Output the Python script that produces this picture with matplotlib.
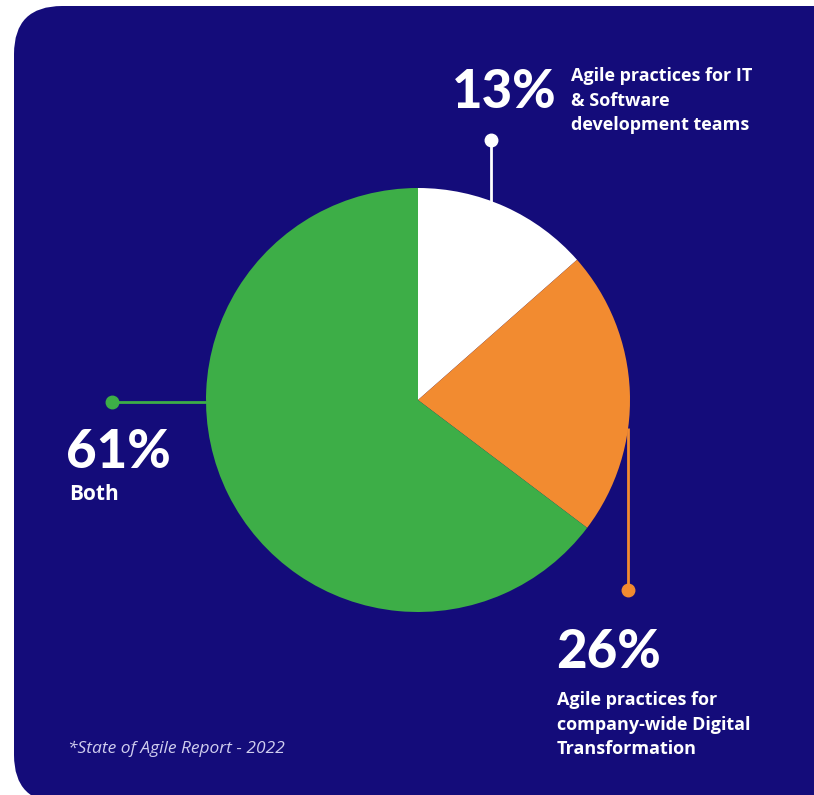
import matplotlib.pyplot as plt
from matplotlib.patches import FancyBboxPatch

# data
# slice sizes as drawn in the picture (the printed labels are rounded survey numbers)
shares = [13.5, 21.8, 64.7]
pct_labels = ['13%', '26%', '61%']
descriptions = ['Agile practices for IT\n& Software\ndevelopment teams',
                'Agile practices for\ncompany-wide Digital\nTransformation',
                'Both']
slice_colors = ['#FFFFFF', '#F28B30', '#3DAE47']
footnote = '*State of Agile Report - 2022'

BG = '#140C7A'
W, H = 814, 795

fig = plt.figure(figsize=(W / 100, H / 100), dpi=100)
fig.patch.set_facecolor('white')
ax = fig.add_axes([0, 0, 1, 1])


def py(y):
    # pixel row -> data y
    return H - y


# rounded dark panel (runs off the right edge, corner just visible at bottom)
panel = FancyBboxPatch((14, py(803)), 900, 803 - 6,
                       boxstyle='round,pad=0,rounding_size=48',
                       fc=BG, ec='none', zorder=0)
ax.add_patch(panel)

cx, cy, r = 418, py(400), 212
ax.pie(shares, colors=slice_colors, startangle=90, counterclock=False,
       center=(cx, cy), radius=r, frame=True,
       wedgeprops=dict(linewidth=0))
ax.set_xlim(0, W)
ax.set_ylim(0, H)
ax.set_aspect('equal')
ax.axis('off')

# leader lines with dots
leaders = [
    ((491, 491), (py(140), py(203)), slice_colors[0]),
    ((628, 628), (py(590), py(428)), slice_colors[1]),
    ((112, 208), (py(402), py(402)), slice_colors[2]),
]
for xs, ys, c in leaders:
    ax.plot(xs, ys, color=c, lw=2, zorder=3, solid_capstyle='butt')
    ax.plot(xs[0], ys[0], 'o', color=c, ms=9, zorder=4)

big = dict(color='white', fontsize=38, fontweight='black', family='Lato',
           va='baseline', ha='left')
small = dict(color='white', fontsize=13, fontweight='bold', family='Open Sans',
             va='top', ha='left', linespacing=1.48)

ax.text(452, py(108), pct_labels[0], **big)
ax.text(571, py(67), descriptions[0], **small)

ax.text(556, py(668), pct_labels[1], **big)
ax.text(557, py(691), descriptions[1], **small)

ax.text(66, py(468), pct_labels[2], **big)
ax.text(69, py(484), descriptions[2], color='white', fontsize=15,
        fontweight='bold', family='Open Sans', va='top', ha='left')

ax.text(68, py(749), footnote, color='#CFCDEE', fontsize=12.5,
        fontstyle='italic', family='Open Sans',
        va='center', ha='left')

fig.savefig('out.png', dpi=100, facecolor='white')
